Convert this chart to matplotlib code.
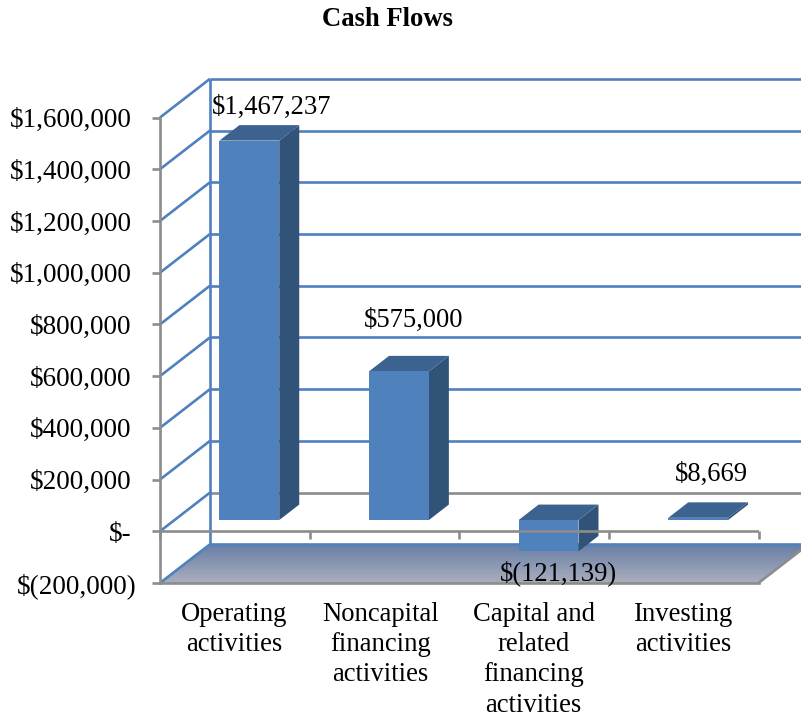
import numpy as np
import matplotlib
matplotlib.use("Agg")
import matplotlib.pyplot as plt
from matplotlib.patches import Polygon
from matplotlib.transforms import IdentityTransform, Affine2D

# ---- data ----
categories = ["Operating\nactivities", "Noncapital\nfinancing\nactivities",
              "Capital and\nrelated\nfinancing\nactivities", "Investing\nactivities"]
values = [1467237, 575000, -121139, 8669]
value_labels = ["$1,467,237", "$575,000", "$(121,139)", "$8,669"]
y_ticks = [-200000, 0, 200000, 400000, 600000, 800000, 1000000, 1200000, 1400000, 1600000]
y_tick_labels = ["$(200,000)", "$-", "$200,000", "$400,000", "$600,000", "$800,000",
                 "$1,000,000", "$1,200,000", "$1,400,000", "$1,600,000"]

# ---- style / layout ----
W, H = 801, 717
BLUE = "#4f81bd"; GREY = "#8c8c8c"
FACE = "#4f81bd"; TOP = "#3c6390"; SIDE = "#325378"
DX, DY = 50.0, 38.7          # pixel shift of the full chart depth
BAR_F0, BAR_F1 = 0.29, 0.69  # bar front / back as fractions of depth
BAR_W = 0.4
FS = 19.5
LABEL_FS = 19.2
TITLE_FS = 19.2
LW = 1.9
label_x_nudge = [22.5, 15, 9.5, 13.5]
label_centres_y = [107, 320, 573, 474]
category_x_nudge = [-0.5, -4, -0.5, -0.5]

plt.rcParams["font.family"] = ["Liberation Serif", "DejaVu Serif"]
fig = plt.figure(figsize=(W / 100, H / 100), dpi=100)
ax = fig.add_axes([160 / W, (H - 583) / H, 598.5 / W, 465.5 / H])
ax.set_xlim(0, 4)
ax.set_ylim(y_ticks[0], y_ticks[-1])
ax.patch.set_visible(False)
ax.autoscale(False)


def px(x, y, f=0.0):
    """Display position of data point (x, y) at depth fraction f."""
    p = ax.transData.transform((x, y))
    return (p[0] + DX * f, p[1] + DY * f)


identity = IdentityTransform()


def line(pts, color, z, lw=LW):
    xs, ys = zip(*pts)
    ax.plot(xs, ys, color=color, lw=lw, transform=identity, clip_on=False, zorder=z,
            solid_capstyle="butt")


def poly(pts, color, z, edge=None):
    p = Polygon(pts, closed=True, facecolor=color, edgecolor=edge or "none",
                lw=0.6, transform=identity, clip_on=False, zorder=z)
    ax.add_patch(p)
    return p


# Floor with gradient
y0 = y_ticks[0]
floor_pts = [px(0, y0), px(4, y0), px(4, y0, 1), px(0, y0, 1)]
floor = poly(floor_pts, "none", 1)
c_top = np.array([0x68, 0x7f, 0xa8]) / 255
c_bot = np.array([0xaa, 0xae, 0xbc]) / 255
t = np.linspace(0, 1, 64)[:, None, None]
grad = (1 - t) * c_top + t * c_bot
(lx, by), (rx, ty) = floor_pts[0], floor_pts[2]
im = ax.imshow(grad, extent=(lx, rx, by, ty), aspect="auto", transform=identity,
               origin="upper", zorder=1, interpolation="bilinear")
im.set_clip_path(floor)
im.set_clip_box(fig.bbox)
ax.set_xlim(0, 4)
ax.set_ylim(y_ticks[0], y_ticks[-1])

# Back wall grid and side wall diagonals
for v in y_ticks:
    col = GREY if v == 0 else BLUE
    if v != y_ticks[0]:
        line([px(0, v, 1), px(4, v, 1)], col, 2)
    line([px(0, v, 0), px(0, v, 1)], BLUE, 2.5)
line([px(0, y_ticks[0], 1), px(4, y_ticks[0], 1)], BLUE, 2)
line([px(0, y_ticks[0], 1), px(0, y_ticks[-1], 1)], BLUE, 2.5)
line([px(4, y_ticks[0]), px(4, y_ticks[0], 1)], GREY, 2)

# Bars
for i, v in enumerate(values):
    x0, x1 = i + 0.5 - BAR_W / 2, i + 0.5 + BAR_W / 2
    lo, hi = min(v, 0), max(v, 0)
    poly([px(x1, lo, BAR_F0), px(x1, lo, BAR_F1), px(x1, hi, BAR_F1), px(x1, hi, BAR_F0)], SIDE, 3)
    poly([px(x0, hi, BAR_F0), px(x1, hi, BAR_F0), px(x1, hi, BAR_F1), px(x0, hi, BAR_F1)], TOP, 3)
    poly([px(x0, lo, BAR_F0), px(x1, lo, BAR_F0), px(x1, hi, BAR_F0), px(x0, hi, BAR_F0)], FACE, 3.1)

# Front axes
for s in ("top", "right"):
    ax.spines[s].set_visible(False)
for s in ("left", "bottom"):
    ax.spines[s].set_color(GREY)
    ax.spines[s].set_linewidth(LW)
    ax.spines[s].set_zorder(4)
ax.set_yticks(y_ticks, y_tick_labels, fontsize=FS)
ax.tick_params(axis="y", length=6, width=LW, color=GREY, pad=14.5)
ax.axhline(0, color=GREY, lw=LW, zorder=4)
for i in range(5):
    a = px(i, 0)
    line([a, (a[0], a[1] - 8)], GREY, 4)
# the lowest y label sits further right in the reference
low = ax.get_yticklabels()[0]
low.set_transform(low.get_transform() + Affine2D().translate(5, 0))

# Category labels
ax.set_xticks(np.arange(len(categories)) + 0.5, categories, fontsize=LABEL_FS, linespacing=1.28)
ax.tick_params(axis="x", length=0, pad=13.5)
for lab, nudge in zip(ax.get_xticklabels(), category_x_nudge):
    lab.set_transform(lab.get_transform() + Affine2D().translate(nudge, 0))

# Value labels
for i, (s, nudge, yc) in enumerate(zip(value_labels, label_x_nudge, label_centres_y)):
    a = px(i + 0.5, 0, BAR_F0)
    ax.text(a[0] + nudge, H - yc, s, fontsize=LABEL_FS, ha="center", va="center",
            transform=identity, zorder=6, clip_on=False)

fig.text(387.5 / W, 1 - 19 / H, "Cash Flows", fontsize=TITLE_FS, fontweight="bold",
         ha="center", va="center")
fig.savefig("out.png", dpi=100)
